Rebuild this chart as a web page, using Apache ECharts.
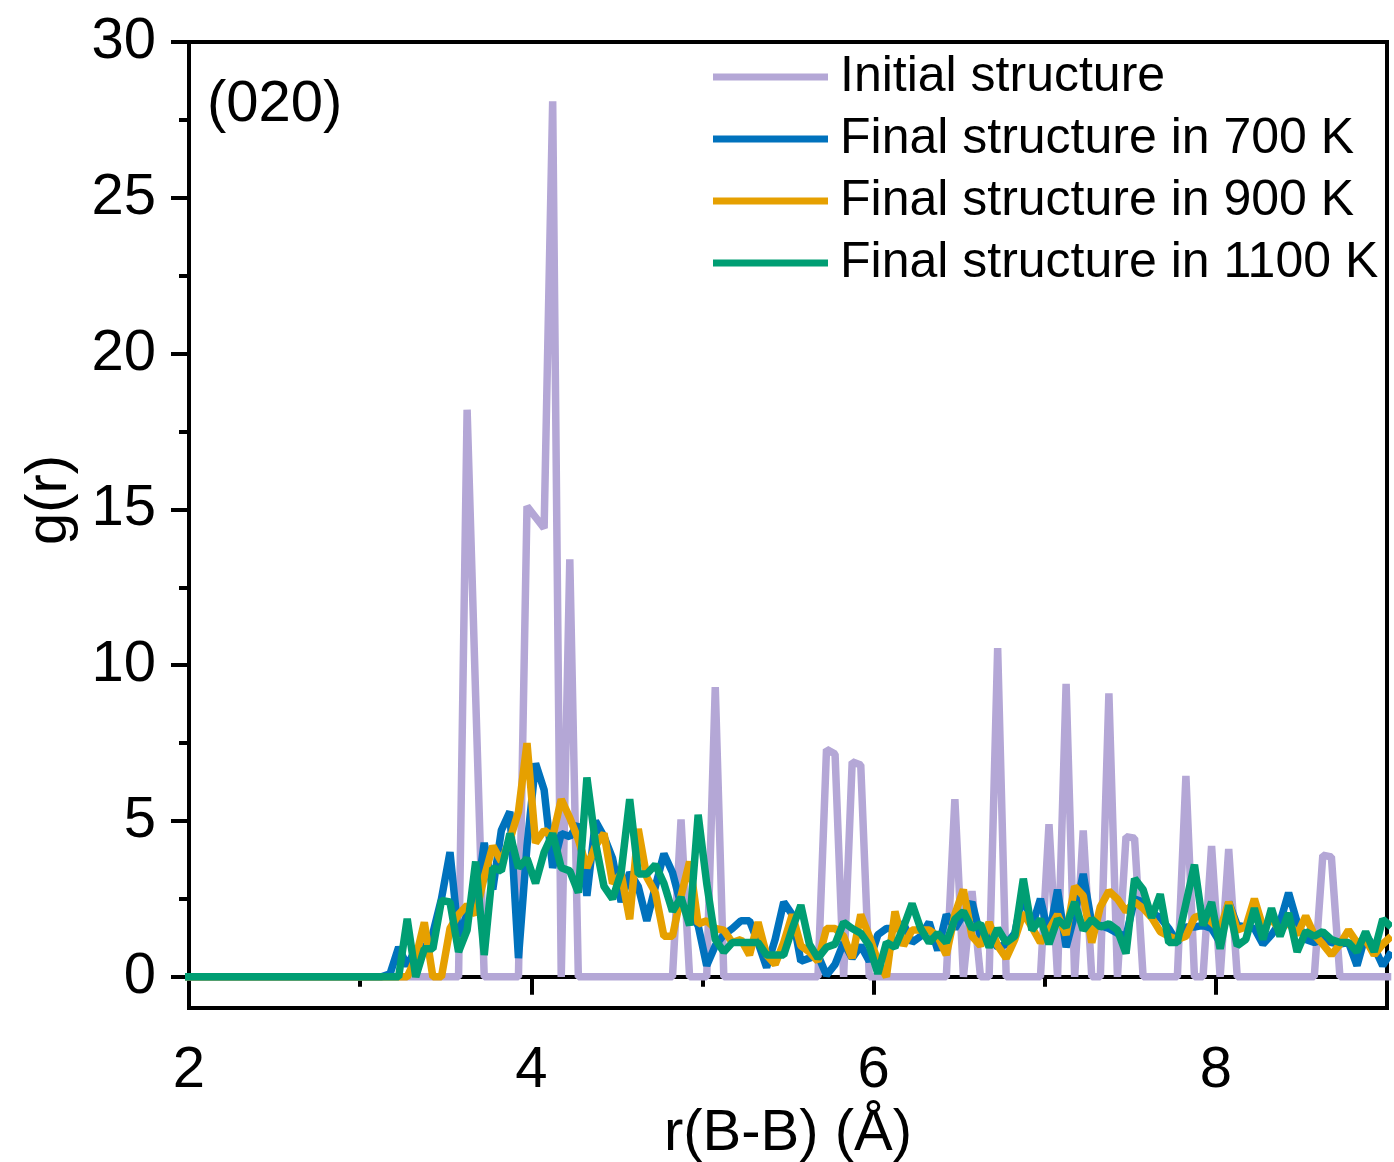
<!DOCTYPE html>
<html>
<head>
<meta charset="utf-8">
<script src="https://cdn.jsdelivr.net/npm/echarts@6/dist/echarts.min.js"></script>
<style>
html,body{margin:0;padding:0;background:#fff;}
#chart{width:1394px;height:1162px;}
</style>
</head>
<body>
<div id="chart"></div>
<script>
// r grid (bin centres, Å)
const r = [1.975,
2.025,2.075,2.125,2.175,2.225,2.275,2.325,2.375,2.425,2.475,
2.525,2.575,2.625,2.675,2.725,2.775,2.825,2.875,2.925,2.975,
3.025,3.075,3.125,3.175,3.225,3.275,3.325,3.375,3.425,3.475,
3.525,3.575,3.625,3.675,3.725,3.775,3.825,3.875,3.925,3.975,
4.025,4.075,4.125,4.175,4.225,4.275,4.325,4.375,4.425,4.475,
4.525,4.575,4.625,4.675,4.725,4.775,4.825,4.875,4.925,4.975,
5.025,5.075,5.125,5.175,5.225,5.275,5.325,5.375,5.425,5.475,
5.525,5.575,5.625,5.675,5.725,5.775,5.825,5.875,5.925,5.975,
6.025,6.075,6.125,6.175,6.225,6.275,6.325,6.375,6.425,6.475,
6.525,6.575,6.625,6.675,6.725,6.775,6.825,6.875,6.925,6.975,
7.025,7.075,7.125,7.175,7.225,7.275,7.325,7.375,7.425,7.475,
7.525,7.575,7.625,7.675,7.725,7.775,7.825,7.875,7.925,7.975,
8.025,8.075,8.125,8.175,8.225,8.275,8.325,8.375,8.425,8.475,
8.525,8.575,8.625,8.675,8.725,8.775,8.825,8.875,8.925,8.975,
9.025];

const gInitial = [0,
0,0,0,0,0,0,0,0,0,0,
0,0,0,0,0,0,0,0,0,0,
0,0,0,0,0,0,0,0,0,0,
0,0,18.2,9.0,0,0,0,0,0,15.1,
14.75,14.4,28.1,0,13.4,0,0,0,0,0,
0,0,0,0,0,0,0,5.05,0,0,
0,9.3,0,0,0,0,0,0,0,0,
0,0,0,0,7.3,7.15,0,6.9,6.8,0,
0,0,0,0,0,0,0,0,0,5.7,
0,2.75,0,0,10.55,0,0,0,0,0,
4.9,0,9.4,0,4.7,0,0,9.1,0,4.5,
4.45,0,0,0,0,0,6.45,0,0,4.2,
0,4.1,0,0,0,0,0,0,0,0,
0,0,3.9,3.85,0,0,0,0,0,0,
0];

const g700 = [0,
0,0,0,0,0,0,0,0,0,0,
0,0,0,0,0,0,0,0,0,0,
0,0,0,0.1,0.95,0.35,0.9,0.9,1.4,2.5,
4.0,1.3,2.0,2.3,4.3,2.8,4.7,5.3,0.6,4.2,
6.85,6.0,3.5,4.6,4.5,4.9,2.6,5.0,4.5,3.8,
2.4,3.35,2.9,1.8,2.9,3.95,3.35,2.3,2.0,1.65,
0.36,1.0,1.35,1.55,1.8,1.8,1.1,0.3,1.2,2.4,
2.0,0.5,0.6,0.7,0.05,0.4,1.1,0.6,1.0,0.5,
1.35,1.55,1.55,1.7,1.1,1.3,1.75,0.85,2.0,1.55,
2.0,2.4,1.3,1.3,0.95,1.05,1.4,2.7,1.6,2.5,
1.3,2.8,0.95,2.0,3.3,1.7,1.65,1.55,1.4,1.3,
2.5,2.4,2.05,1.9,1.55,1.1,1.6,1.6,1.65,1.55,
1.1,2.4,1.65,1.6,1.55,1.05,1.35,1.75,2.7,1.75,
1.2,1.1,1.2,1.1,1.05,1.1,0.36,1.35,0.95,0.36,
0.8];

const g900 = [0,
0,0,0,0,0,0,0,0,0,0,
0,0,0,0,0,0,0,0,0,0,
0,0,0,0,0,0,0.6,1.75,0,0,
1.55,2.0,2.3,2.0,3.2,4.2,3.7,4.4,5.3,7.5,
4.3,4.7,4.5,5.7,5.1,4.4,3.5,4.2,4.6,3.0,
3.3,1.85,4.75,3.2,2.7,1.3,1.3,2.6,3.7,1.7,
1.8,1.55,1.5,1.1,1.2,0.7,1.75,0.7,0.4,1.1,
2.0,1.0,0.8,0.5,1.55,1.55,1.3,0.6,2.0,1.3,
0.5,0.0,2.1,1.0,1.5,1.5,1.5,1.3,0.7,2.0,
2.8,1.3,1.0,1.75,1.0,0.6,1.2,2.05,1.6,1.1,
1.5,2.0,1.35,2.9,2.6,1.1,2.25,2.75,2.5,2.1,
2.4,2.2,1.9,1.45,1.3,1.2,1.3,1.9,2.0,1.75,
1.5,2.4,1.5,1.6,2.5,1.6,1.85,1.5,1.75,1.35,
1.95,1.35,1.05,0.7,1.05,1.5,1.1,1.2,0.7,1.05,
1.3];

const g1100 = [0,
0,0,0,0,0,0,0,0,0,0,
0,0,0,0,0,0,0,0,0,0,
0,0,0,0,0,1.86,0.0,0.9,0.9,2.45,
2.4,0.8,1.5,3.7,0.7,3.5,3.4,4.6,3.5,3.8,
3.0,4.0,4.6,3.5,3.4,2.7,6.4,4.3,2.9,2.5,
3.35,5.7,3.3,3.3,3.6,3.0,2.1,2.55,1.65,5.2,
3.0,1.2,0.8,1.1,1.1,1.1,1.1,0.7,0.7,0.7,
1.55,2.3,1.05,0.6,0.95,1.05,1.75,1.55,1.4,1.0,
0.1,1.1,0.95,1.6,2.35,1.55,1.1,1.4,1.1,1.85,
2.1,1.55,1.7,0.95,1.55,1.1,1.3,3.15,1.5,1.85,
1.05,1.85,1.6,2.4,1.5,1.85,1.6,1.7,1.5,0.75,
3.15,2.8,1.9,2.65,1.1,1.1,2.35,3.6,1.65,2.4,
0.9,2.3,1.0,1.2,2.2,1.2,2.2,1.3,2.05,0.8,
1.45,1.3,1.45,1.2,1.1,1.1,0.8,1.45,0.8,1.85,
1.6];

const seriesNames = ['Initial structure','Final structure in 700 K','Final structure in 900 K','Final structure in 1100 K'];
const seriesColors = ['#b4a7d6','#0072bd','#e6a000','#009e73'];
const xMajorTicks = [2,4,6,8];
const xMinorTicks = [3,5,7];
const yMajorTicks = [0,5,10,15,20,25,30];
const yMinorTicks = [2.5,7.5,12.5,17.5,22.5,27.5];

const FONT = 'Liberation Sans, Arial, sans-serif';
const allData = [gInitial, g700, g900, g1100];

const chart = echarts.init(document.getElementById('chart'), null, {renderer:'canvas'});
const axisLine = {show:true, lineStyle:{color:'#000', width:4}};
chart.setOption({
  animation:false,
  backgroundColor:'#fff',
  grid:{left:189, top:42, right:7, bottom:154, show:true, borderColor:'#000', borderWidth:4,
        backgroundColor:'transparent', containLabel:false, outerBoundsMode:'none'},
  xAxis:[{
    type:'value', min:2, max:9, position:'bottom',
    axisLine:axisLine,
    axisTick:{show:true, inside:false, length:18, lineStyle:{width:4, color:'#000'}, customValues:xMajorTicks},
    axisLabel:{show:true, customValues:xMajorTicks, fontSize:58, fontFamily:FONT, color:'#000', margin:34},
    splitLine:{show:false},
    name:'r(B-B) (Å)', nameLocation:'middle', nameGap:81,
    nameTextStyle:{fontSize:58, fontFamily:FONT, color:'#000'}
  },{
    type:'value', min:2, max:9, position:'bottom',
    axisLine:{show:false},
    axisTick:{show:true, inside:false, length:10, lineStyle:{width:4, color:'#000'}, customValues:xMinorTicks},
    axisLabel:{show:false}, splitLine:{show:false}
  }],
  yAxis:[{
    type:'value', min:-1, max:30, position:'left',
    axisLine:axisLine,
    axisTick:{show:true, inside:false, length:18, lineStyle:{width:4, color:'#000'}, customValues:yMajorTicks},
    axisLabel:{show:true, customValues:yMajorTicks, fontSize:58, fontFamily:FONT, color:'#000', margin:33},
    splitLine:{show:false},
    name:'g(r)', nameLocation:'middle', nameGap:110, nameRotate:90,
    nameTextStyle:{fontSize:58, fontFamily:FONT, color:'#000', padding:[0,0,0,50]}
  },{
    type:'value', min:-1, max:30, position:'left',
    axisLine:{show:false},
    axisTick:{show:true, inside:false, length:10, lineStyle:{width:4, color:'#000'}, customValues:yMinorTicks},
    axisLabel:{show:false}, splitLine:{show:false}
  }],
  legend:{
    show:true, orient:'vertical', left:713, top:52, padding:0,
    icon:'rect', itemWidth:115, itemHeight:7, itemGap:12,
    textStyle:{fontSize:50, fontFamily:FONT, color:'#000', lineHeight:50, padding:[0,0,0,7]},
    data:seriesNames
  },
  graphic:[{
    type:'text', left:207, top:76,
    style:{text:'(020)', fontSize:58, fontFamily:FONT, fill:'#000'}
  }],
  series: seriesNames.map((name,k)=>({
    name:name, type:'line', xAxisIndex:0, yAxisIndex:0,
    showSymbol:false, symbol:'none', clip:true,
    lineStyle:{color:seriesColors[k], width:7.5},
    itemStyle:{color:seriesColors[k]},
    emphasis:{disabled:true},
    data: r.map((x,i)=>[x, allData[k][i]]),
    z: 2+k
  }))
});
</script>
</body>
</html>
